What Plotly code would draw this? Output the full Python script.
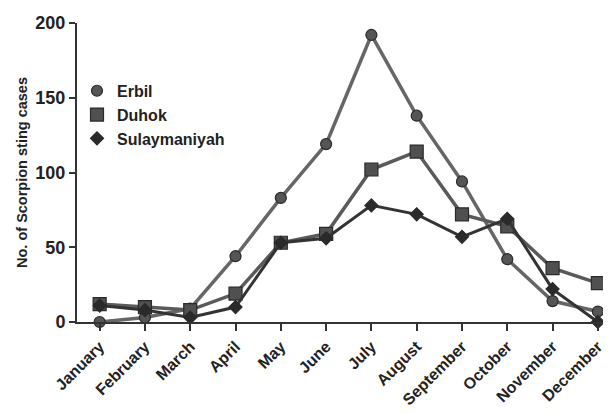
import plotly.graph_objects as go

months = ["January", "February", "March", "April", "May", "June", "July",
          "August", "September", "October", "November", "December"]
erbil = [0, 3, 9, 44, 83, 119, 192, 138, 94, 42, 14, 7]
duhok = [12, 10, 8, 19, 53, 59, 102, 114, 72, 64, 36, 26]
sulay = [11, 8, 3, 10, 53, 56, 78, 72, 57, 69, 22, 0]

series = [
    ("Erbil", erbil, "#666666", 3.5, "circle", 11, "#555555"),
    ("Duhok", duhok, "#5a5a5a", 3.5, "square", 13, "#505050"),
    ("Sulaymaniyah", sulay, "#333333", 3, "diamond", 10, "#2a2a2a"),
]

x = list(range(len(months)))
fig = go.Figure()
for name, vals, lc, lw, sym, sz, mc in series:
    fig.add_trace(go.Scatter(x=x, y=vals, name=name, mode="lines+markers",
                             line=dict(color=lc, width=lw),
                             marker=dict(symbol=sym, size=sz, color=mc,
                                         line=dict(color="#2a2a2a", width=1.2)),
                             cliponaxis=False, showlegend=False))
# legend entries: markers only, as in the reference
for name, vals, lc, lw, sym, sz, mc in series:
    fig.add_trace(go.Scatter(x=[None], y=[None], name=name, mode="markers",
                             marker=dict(symbol=sym, size=sz, color=mc,
                                         line=dict(color="#2a2a2a", width=1.2)),
                             showlegend=True))

font_family = "Liberation Sans, Arial, sans-serif"
fig.update_layout(
    width=603, height=406,
    margin=dict(l=69, r=0, t=15, b=92),
    plot_bgcolor="white", paper_bgcolor="white",
    font=dict(family=font_family, color="#222222"),
    showlegend=True,
    legend=dict(x=0.0, y=0.83, xanchor="left", yanchor="top",
                font=dict(size=16, family=font_family, color="#222222", weight="bold"),
                bgcolor="rgba(0,0,0,0)", tracegroupgap=0,
                itemsizing="trace"),
    xaxis=dict(range=[-0.5, 11.29], tickmode="array", tickvals=x, ticktext=months,
               tickangle=-45, showgrid=False, zeroline=False, showline=True,
               linecolor="#333333", linewidth=2, ticks="outside", ticklen=7,
               tickwidth=2, tickcolor="#333333", automargin=False,
               tickfont=dict(size=16, family=font_family, color="#222222", weight="bold")),
    yaxis=dict(range=[0, 200], tickvals=[0, 50, 100, 150, 200], showgrid=False,
               zeroline=False, showline=True, linecolor="#333333", linewidth=2,
               ticks="outside", ticklen=6, tickwidth=2, tickcolor="#333333",
               automargin=False,
               tickfont=dict(size=18, family=font_family, color="#222222", weight="bold"),
               title=dict(text="No. of Scorpion sting cases", standoff=4,
                          font=dict(size=14.5, family=font_family, color="#222222", weight="bold"))),
)
fig.write_html("out.html")
